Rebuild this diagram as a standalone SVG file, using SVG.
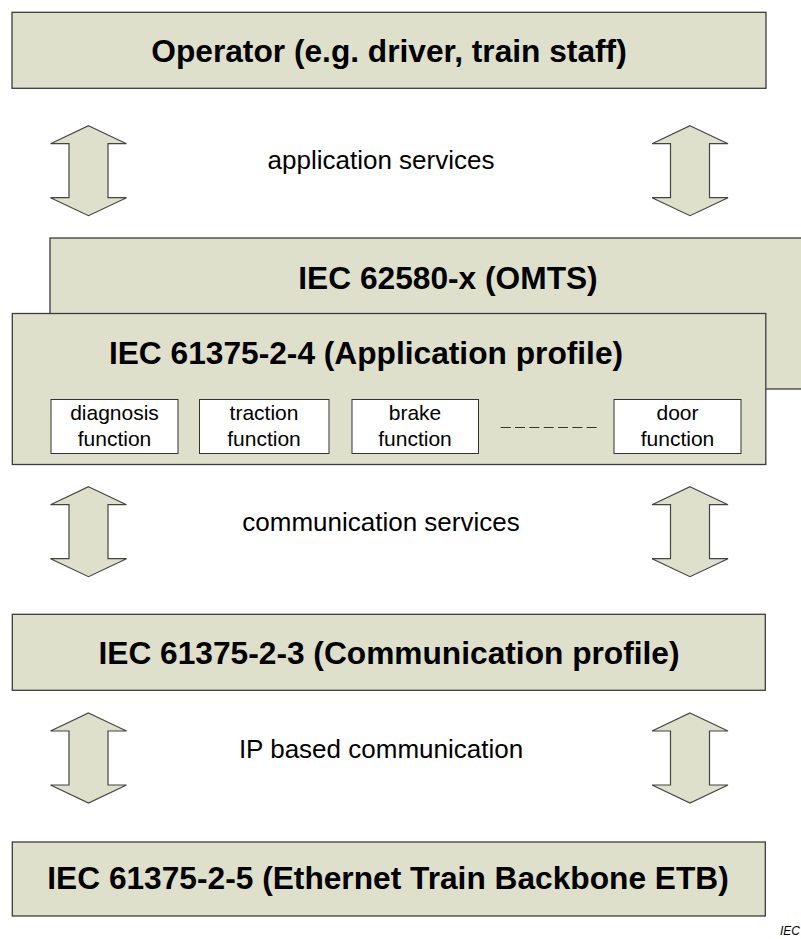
<svg xmlns="http://www.w3.org/2000/svg" width="801" height="939" viewBox="0 0 801 939">
<style>
.box{fill:#dee0cb;stroke:#3c3c3c;stroke-width:1.3}
.fn{fill:#ffffff;stroke:#333333;stroke-width:1}
.arr{fill:#dee0cb;stroke:#444444;stroke-width:1.2;stroke-linejoin:miter}
.bt{font-family:"Liberation Sans",Arial,sans-serif;font-weight:bold;font-size:31.7px;fill:#000;text-anchor:middle}
.lt{font-family:"Liberation Sans",Arial,sans-serif;font-size:26px;fill:#000;text-anchor:middle}
.ft{font-family:"Liberation Sans",Arial,sans-serif;font-size:21px;fill:#000;text-anchor:middle}
</style>
<defs>
<path id="dblarrow" class="arr" d="M0,-45 L38,-27 L19.5,-27 L19.5,27 L38,27 L0,45 L-38,27 L-19.5,27 L-19.5,-27 L-38,-27 Z"/>
</defs>
<rect width="801" height="939" fill="#ffffff"/>

<g id="operator">
<rect class="box" x="12" y="12.3" width="754" height="76"/>
<text class="bt" x="389" y="61.5">Operator (e.g. driver, train staff)</text>
</g>

<g id="omts">
<rect class="box" x="50" y="238" width="800" height="151"/>
<text class="bt" x="448" y="288.5">IEC 62580-x (OMTS)</text>
</g>

<g id="application-profile">
<rect class="box" x="12.3" y="313.5" width="753.5" height="151"/>
<text class="bt" x="366" y="363.5">IEC 61375-2-4 (Application profile)</text>
</g>

<g id="diagnosis">
<rect class="fn" x="51" y="399.5" width="127" height="54"/>
<text class="ft" x="114.5" y="420">diagnosis</text>
<text class="ft" x="114.5" y="446">function</text>
</g>
<g id="traction">
<rect class="fn" x="199.5" y="399.5" width="129.5" height="54"/>
<text class="ft" x="264" y="420">traction</text>
<text class="ft" x="264" y="446">function</text>
</g>
<g id="brake">
<rect class="fn" x="352" y="399.5" width="126.5" height="54"/>
<text class="ft" x="415" y="420">brake</text>
<text class="ft" x="415" y="446">function</text>
</g>
<g id="ellipsis">
<line x1="500.7" y1="427.5" x2="596.7" y2="427.5" stroke="#333333" stroke-width="1.2" stroke-dasharray="10 4.33"/>
</g>
<g id="door">
<rect class="fn" x="614" y="399.5" width="127" height="54"/>
<text class="ft" x="677.5" y="420">door</text>
<text class="ft" x="677.5" y="446">function</text>
</g>

<g id="communication-profile">
<rect class="box" x="12.3" y="614.3" width="753" height="76"/>
<text class="bt" x="389" y="663.5">IEC 61375-2-3 (Communication profile)</text>
</g>

<g id="etb">
<rect class="box" x="12.3" y="842" width="753" height="74"/>
<text class="bt" x="388" y="889">IEC 61375-2-5 (Ethernet Train Backbone ETB)</text>
</g>

<g id="connectors">
<use href="#dblarrow" x="88.5" y="170.7"/>
<use href="#dblarrow" x="690" y="170.7"/>
<text class="lt" x="381" y="169">application services</text>
<use href="#dblarrow" x="690" y="531.7"/>
<use href="#dblarrow" x="88.5" y="531.7"/>
<text class="lt" x="381" y="531">communication services</text>
<use href="#dblarrow" x="88.5" y="758"/>
<use href="#dblarrow" x="690" y="758"/>
<text class="lt" x="381" y="758">IP based communication</text>
</g>

<text x="800" y="935" font-family="'Liberation Sans',Arial,sans-serif" font-style="italic" font-size="12px" text-anchor="end" fill="#000">IEC</text>
</svg>
